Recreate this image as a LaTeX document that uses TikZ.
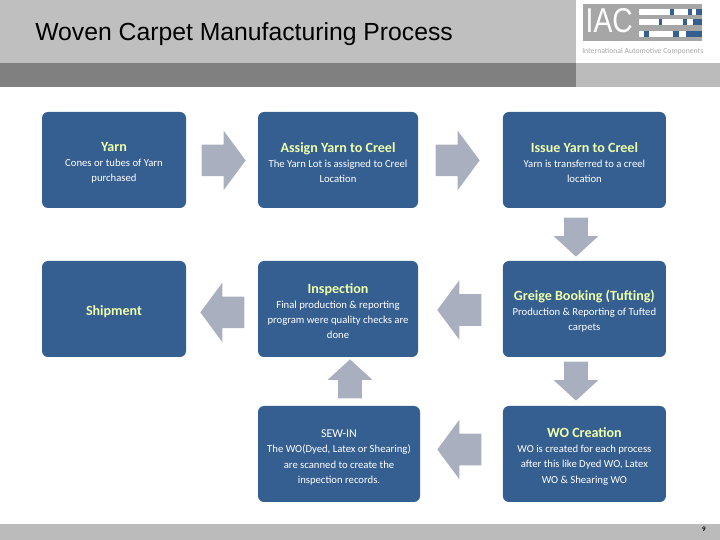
\documentclass[tikz,border=0pt]{standalone}
\usepackage{fontspec}
\setmainfont{Carlito}
\newfontfamily\titlefont{Liberation Sans}
\newfontfamily\logofont[FakeStretch=0.82]{Liberation Sans}
\usetikzlibrary{shapes.arrows}
\definecolor{boxblue}{HTML}{365F91}
\definecolor{arrowgray}{HTML}{A9AFBF}
\definecolor{headyellow}{HTML}{EEFFAA}
\definecolor{headgray}{HTML}{BFBFBF}
\definecolor{bandgray}{HTML}{808080}
\definecolor{footgray}{HTML}{BBBBBB}
\definecolor{logogray}{HTML}{A6A6A6}
\newcommand{\boxhead}[1]{{\fontsize{10}{11}\bfseries\color{headyellow}#1}}
\newcommand{\toppad}{\rule{0pt}{10.5pt}}
\begin{document}
\begin{tikzpicture}[process_node/.style={rectangle,rounded corners=0.15cm,fill=boxblue,text=white,minimum height=2.4cm,inner sep=0pt,align=center,font=\fontsize{7.6}{10.7}\selectfont},
    big_arrow/.style={single arrow,anchor=tip,fill=arrowgray,inner xsep=0pt,inner ysep=0.3875cm,minimum height=1.1cm,single arrow head extend=0.35cm,single arrow tip angle=107},
    small_arrow/.style={single arrow,anchor=tip,fill=arrowgray,inner xsep=0.2875cm,inner ysep=0pt,minimum height=0.975cm,single arrow head extend=0.2625cm,single arrow tip angle=95}]

    \useasboundingbox (0,0) rectangle (18,13.5);

    % header and footer
    \fill[headgray] (0,13.5) rectangle (14.4,11.925);
    \fill[bandgray] (0,11.925) rectangle (14.4,11.325);
    \fill[footgray] (14.4,11.925) rectangle (18,11.325);
    \fill[footgray] (0,0) rectangle (18,0.4);

    \node[anchor=base west,inner sep=0pt,font=\titlefont\fontsize{17.6}{20}\selectfont] (title) at (0.875,12.475) {Woven Carpet Manufacturing Process};
    \node[inner sep=0pt,font=\fontsize{5}{6}\bfseries] (page) at (17.6,0.26) {9};

    % logo
    \fill[logogray] (14.575,13.4) rectangle (17.55,12.475);
    \node[anchor=base,inner sep=0pt,text=white,font=\logofont\fontsize{24.5}{25}\selectfont] (iac) at (15.23,12.675) {IAC};
    \node[inner sep=0pt,text=logogray,font=\fontsize{5.5}{6}\selectfont] (logotext) at (16.07,12.22) {International Automotive Components};
    \foreach \y in {13.275,13.025,12.725}
        \fill[white] (15.975,\y) rectangle (17.55,\y-0.15);
    \foreach \a/\b/\y in {16.76/16.84/13.275,17.19/17.3/13.275,17.4/17.55/13.275,
                          16.47/16.55/13.025,17.07/17.18/13.025,17.32/17.55/13.025,
                          16.11/16.22/12.725,16.82/16.98/12.725,17.15/17.55/12.725}
        \fill[boxblue] (\a,\y) rectangle (\b,\y-0.15);

    % process boxes
    \node[process_node,minimum width=3.6cm] (yarn) at (2.85,9.5) {\toppad\boxhead{Yarn}\\Cones or tubes of Yarn\\purchased};
    \node[process_node,minimum width=4cm] (assign) at (8.45,9.5) {\toppad\boxhead{Assign Yarn to Creel}\\The Yarn Lot is assigned to Creel\\Location};
    \node[process_node,minimum width=4.075cm] (issue) at (14.61,9.5) {\toppad\boxhead{Issue Yarn to Creel}\\Yarn is transferred to a creel\\location};
    \node[process_node,minimum width=3.6cm] (shipment) at (2.85,5.775) {\toppad\boxhead{Shipment}};
    \node[process_node,minimum width=4cm] (inspection) at (8.45,5.775) {\toppad\boxhead{Inspection}\\Final production \& reporting\\program were quality checks are\\done};
    \node[process_node,minimum width=4.075cm] (greige) at (14.61,5.775) {\toppad\boxhead{Greige Booking (Tufting)}\\Production \& Reporting of Tufted\\carpets};
    \node[process_node,minimum width=4.05cm] (sewin) at (8.475,2.15) {\toppad{\fontsize{8.5}{11}\selectfont SEW-IN}\\The WO(Dyed, Latex or Shearing)\\are scanned to create the\\inspection records.};
    \node[process_node,minimum width=4.075cm] (wo) at (14.61,2.15) {\toppad\boxhead{WO Creation}\\WO is created for each process\\after this like Dyed WO, Latex\\WO \& Shearing WO};

    % arrows
    \node[big_arrow] (yarn_assign) at (6.15,9.49) {};
    \node[big_arrow] (assign_issue) at (12,9.49) {};
    \node[small_arrow,shape border rotate=270] (issue_greige) at (14.4,7.075) {};
    \node[small_arrow,shape border rotate=270] (greige_wo) at (14.4,3.475) {};
    \node[big_arrow,shape border rotate=180] (greige_inspection) at (10.925,5.75) {};
    \node[big_arrow,shape border rotate=180] (inspection_shipment) at (5,5.69) {};
    \node[big_arrow,shape border rotate=180] (wo_sewin) at (10.925,2.2625) {};
    \node[small_arrow,shape border rotate=90] (sewin_inspection) at (8.75,4.525) {};
\end{tikzpicture}
\end{document}
